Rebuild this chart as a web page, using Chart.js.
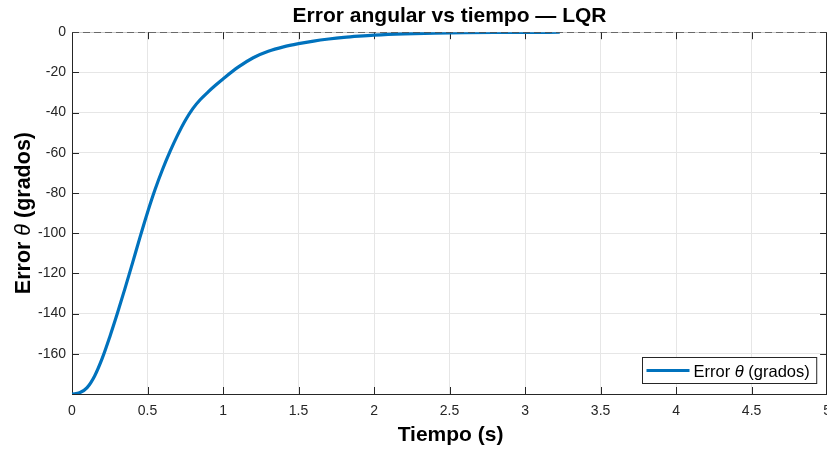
<!DOCTYPE html>
<html>
<head>
<meta charset="utf-8">
<script src="https://cdn.jsdelivr.net/npm/chart.js@4.4.1/dist/chart.umd.min.js"></script>
<style>
  html, body { margin: 0; padding: 0; background: #ffffff; overflow: hidden; }
  #wrap { width: 840px; height: 449px; }
</style>
</head>
<body>
<div id="wrap"><canvas id="c" width="840" height="449"></canvas></div>
<script>
// LQR angular error response (degrees) over time (seconds)
const timeS = [0, 0.05, 0.1, 0.15, 0.2, 0.25, 0.3, 0.35, 0.4, 0.45, 0.5, 0.55, 0.6, 0.65, 0.7,
               0.75, 0.8, 0.85, 0.9, 0.95, 1.0, 1.1, 1.2, 1.3, 1.4, 1.5, 1.6, 1.7, 1.8, 1.9, 2.0,
               2.2, 2.4, 2.6, 2.8, 3.0, 3.23];
const errorDeg = [-180, -179.4, -176.8, -171.0, -162.3, -151.6, -140.0, -127.7, -115.0, -102.1,
                  -89.7, -78.3, -68.2, -59.2, -51.1, -43.9, -38.0, -33.5, -29.8, -26.4, -23.25,
                  -17.4, -12.7, -9.5, -7.3, -5.7, -4.4, -3.4, -2.6, -2.0, -1.5,
                  -0.85, -0.47, -0.26, -0.14, -0.07, -0.03];

// zero reference line
const refX = [0, 5];
const refY = [0, 0];

// axis ticks
const xTicks = [0, 0.5, 1, 1.5, 2, 2.5, 3, 3.5, 4, 4.5, 5];
const yTicks = [-160, -140, -120, -100, -80, -60, -40, -20, 0];

const FONT = "'Liberation Sans', Arial, Helvetica, sans-serif";
const AXIS_COLOR = '#262626';
const LINE_COLOR = '#0072BD';

// Draws a run of text pieces with mixed styles, centered on cx
function drawRich(ctx, parts, size, cx, baseline) {
  let total = 0;
  const widths = parts.map(p => {
    ctx.font = `${p.style || 'normal'} ${p.weight || 'normal'} ${size}px ${FONT}`;
    const w = ctx.measureText(p.text).width;
    total += w;
    return w;
  });
  let x = cx - total / 2;
  parts.forEach((p, i) => {
    ctx.font = `${p.style || 'normal'} ${p.weight || 'normal'} ${size}px ${FONT}`;
    ctx.fillText(p.text, x, baseline);
    x += widths[i];
  });
  return total;
}

const frame = {
  id: 'frame',
  beforeDatasetsDraw(chart) {
    const { ctx, chartArea: a, scales: { x, y } } = chart;
    ctx.save();
    // top and right box edges
    ctx.lineWidth = 1;
    ctx.strokeStyle = '#c8c8c8';
    ctx.beginPath();
    ctx.moveTo(a.left, Math.round(a.top) + 0.5);
    ctx.lineTo(a.right, Math.round(a.top) + 0.5);
    ctx.stroke();
    ctx.strokeStyle = AXIS_COLOR;
    ctx.beginPath();
    ctx.moveTo(Math.round(a.right) - 0.5, a.top);
    ctx.lineTo(Math.round(a.right) - 0.5, a.bottom);
    ctx.stroke();
    // inward ticks
    const len = 7;
    ctx.strokeStyle = AXIS_COLOR;
    ctx.beginPath();
    xTicks.forEach(v => {
      const px = Math.round(x.getPixelForValue(v)) + 0.5;
      ctx.moveTo(px, a.bottom); ctx.lineTo(px, a.bottom - len);
      ctx.moveTo(px, a.top); ctx.lineTo(px, a.top + len);
    });
    yTicks.forEach(v => {
      const py = Math.round(y.getPixelForValue(v)) + 0.5;
      ctx.moveTo(a.left, py); ctx.lineTo(a.left + len, py);
      ctx.moveTo(a.right, py); ctx.lineTo(a.right - len, py);
    });
    ctx.stroke();
    ctx.restore();
  },
  afterDatasetsDraw(chart) {
    const { ctx, chartArea: a } = chart;
    ctx.save();
    ctx.fillStyle = '#000000';
    ctx.textBaseline = 'alphabetic';
    ctx.textAlign = 'left';

    // x axis title
    drawRich(ctx, [{ text: 'Tiempo (s)', weight: 'bold' }], 21, (a.left + a.right) / 2 + 1, 441);

    // y axis title (rotated)
    ctx.save();
    ctx.translate(30, (a.top + a.bottom) / 2);
    ctx.rotate(-Math.PI / 2);
    drawRich(ctx, [
      { text: 'Error ', weight: 'bold' },
      { text: 'θ', style: 'italic' },
      { text: ' (grados)', weight: 'bold' }
    ], 21.5, 0, 0);
    ctx.restore();

    // legend box (lower right)
    const size = 16.5;
    const parts = [{ text: 'Error ' }, { text: 'θ', style: 'italic' }, { text: ' (grados)' }];
    let tw = 0;
    parts.forEach(p => {
      ctx.font = `${p.style || 'normal'} normal ${size}px ${FONT}`;
      tw += ctx.measureText(p.text).width;
    });
    const sample = 43;
    const boxW = 4 + sample + 4 + tw + 7;
    const boxH = 26;
    const bx = Math.round(a.right - 11 - boxW) + 0.5;
    const by = Math.round(a.bottom - 11 - boxH) + 0.5;
    ctx.fillStyle = '#ffffff';
    ctx.fillRect(bx, by, boxW, boxH);
    ctx.strokeStyle = AXIS_COLOR;
    ctx.lineWidth = 1;
    ctx.strokeRect(bx, by, boxW, boxH);
    ctx.strokeStyle = LINE_COLOR;
    ctx.lineWidth = 3.2;
    ctx.beginPath();
    ctx.moveTo(bx + 4, by + boxH / 2);
    ctx.lineTo(bx + 4 + sample, by + boxH / 2);
    ctx.stroke();
    ctx.fillStyle = '#000000';
    let tx = bx + 4 + sample + 4;
    parts.forEach(p => {
      ctx.font = `${p.style || 'normal'} normal ${size}px ${FONT}`;
      ctx.fillText(p.text, tx, by + boxH / 2 + 6);
      tx += ctx.measureText(p.text).width;
    });
    ctx.restore();
  }
};

const response = timeS.map((t, i) => ({ x: t, y: errorDeg[i] }));
const reference = refX.map((t, i) => ({ x: t, y: refY[i] }));

new Chart(document.getElementById('c'), {
  type: 'line',
  data: {
    datasets: [
      {
        label: 'Referencia',
        data: reference,
        borderColor: '#4a4a4a',
        borderWidth: 1.5,
        borderDash: [7, 4],
        pointRadius: 0,
        order: 0
      },
      {
        label: 'Error θ (grados)',
        data: response,
        borderColor: LINE_COLOR,
        borderWidth: 3.2,
        pointRadius: 0,
        cubicInterpolationMode: 'monotone',
        order: 1
      }
    ]
  },
  options: {
    responsive: false,
    animation: false,
    events: [],
    layout: { autoPadding: false, padding: { left: 0, right: 9, top: 0, bottom: 0 } },
    plugins: {
      legend: { display: false },
      tooltip: { enabled: false },
      title: {
        display: true,
        fullSize: false,
        text: 'Error angular vs tiempo — LQR',
        color: '#000000',
        font: { family: FONT, size: 21, weight: 'bold' },
        padding: { top: 4, bottom: 3 }
      }
    },
    scales: {
      x: {
        type: 'linear',
        min: 0,
        max: 5,
        afterBuildTicks: s => { s.ticks = xTicks.map(v => ({ value: v })); },
        afterFit: s => { s.height = 55; },
        grid: { color: '#e6e6e6', lineWidth: 1, drawTicks: false },
        border: { display: true, color: AXIS_COLOR, width: 1 },
        ticks: {
          autoSkip: false,
          maxRotation: 0,
          padding: 9,
          color: AXIS_COLOR,
          font: { family: FONT, size: 14 },
          callback: v => String(v)
        }
      },
      y: {
        type: 'linear',
        min: -180,
        max: 0,
        afterBuildTicks: s => { s.ticks = yTicks.map(v => ({ value: v })); },
        afterFit: s => { s.width = 72; },
        grid: { color: '#e6e6e6', lineWidth: 1, drawTicks: false },
        border: { display: true, color: AXIS_COLOR, width: 1 },
        ticks: {
          autoSkip: false,
          padding: 6,
          color: AXIS_COLOR,
          font: { family: FONT, size: 14 },
          callback: v => String(v)
        }
      }
    }
  },
  plugins: [frame]
});
</script>
</body>
</html>
